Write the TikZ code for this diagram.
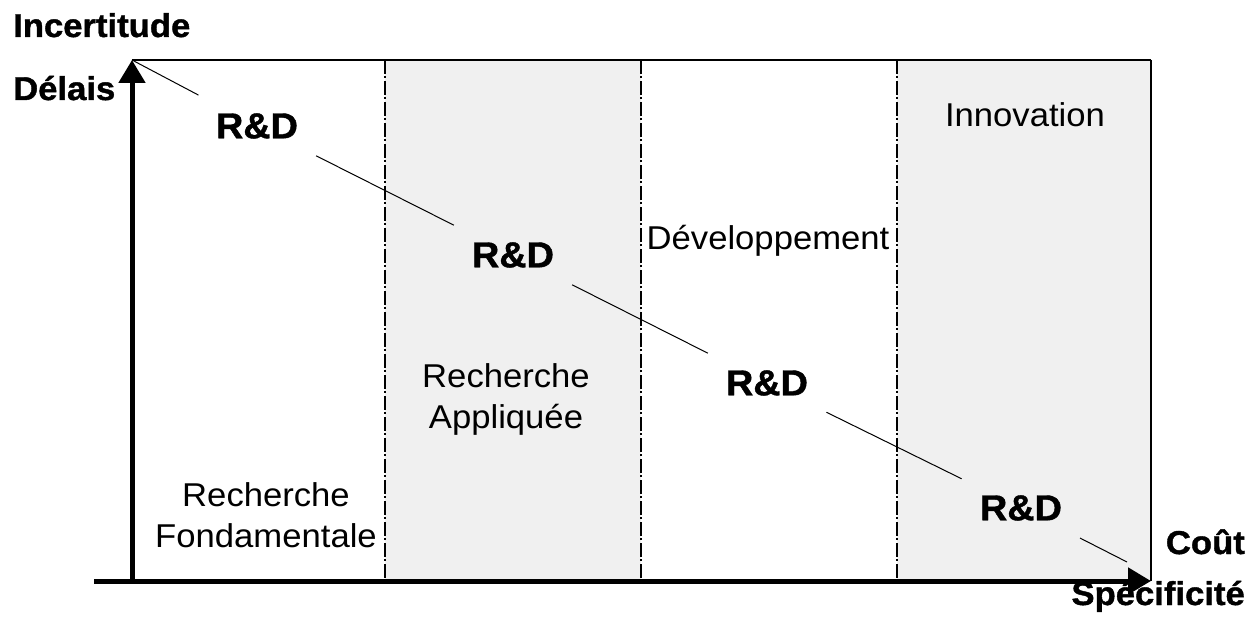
\documentclass[tikz,border=0pt]{standalone}
\usepackage{fontspec}
\setmainfont{Liberation Sans}[FakeStretch=1.05, BoldFeatures={FakeBold=1.2}]
\usetikzlibrary{arrows.meta}
\begin{document}
\begin{tikzpicture}[x=1pt,y=-1pt,
  lbl/.style={font=\fontsize{33}{41}\selectfont, inner sep=0pt, align=center},
  blbl/.style={font=\fontsize{33}{41}\selectfont\bfseries, inner sep=0pt},
  rdnode/.style={circle, minimum size=132pt, inner sep=0pt, font=\fontsize{36}{41}\selectfont\bfseries},
  shade/.style={fill=black!6, draw=none},
  sep/.style={line width=1.3pt, dash pattern=on 14pt off 2pt on 2pt off 3pt},
  axis/.style={line width=5pt, -{Triangle[length=23pt,width=26pt]}},
  diag/.style={line width=1pt}]
\useasboundingbox (0,0) rectangle (1248,628);
% shaded bands
\fill[shade] (385,60) rectangle (641,581);
\fill[shade] (897,60) rectangle (1151,581);
% separators
\coordinate (s1t) at (385,60); \coordinate (s1b) at (385,581);
\coordinate (s2t) at (641,60); \coordinate (s2b) at (641,581);
\coordinate (s3t) at (897,60); \coordinate (s3b) at (897,581);
\draw[sep] (s1t) -- (s1b);
\draw[sep] (s2t) -- (s2b);
\draw[sep] (s3t) -- (s3b);
% frame
\coordinate (tl) at (132,60); \coordinate (tr) at (1151,60); \coordinate (br) at (1151,581);
\draw[line width=2pt] (tl) -- (tr);
\draw[line width=1.5pt] (tr) -- (br);
% axes
\coordinate (ybot) at (132,583); \coordinate (ytip) at (132,60);
\coordinate (xleft) at (94,581); \coordinate (xtip) at (1151,581);
\draw[axis] (ybot) -- (ytip);
\draw[axis] (xleft) -- (xtip);
% R&D labels and diagonal
\node[rdnode] (rd1) at (257,126) {R\&D};
\node[rdnode] (rd2) at (513,255) {R\&D};
\node[rdnode] (rd3) at (767,383) {R\&D};
\node[rdnode] (rd4) at (1021,508) {R\&D};
\coordinate (dend) at (1127,562);
\draw[diag] (ytip) -- (rd1);
\draw[diag] (rd1) -- (rd2);
\draw[diag] (rd2) -- (rd3);
\draw[diag] (rd3) -- (rd4);
\draw[diag] (rd4) -- (dend);
% axis labels
\node[blbl, anchor=base west] (inc) at (13,37) {Incertitude};
\node[blbl, anchor=base west] (del) at (13,100) {Délais};
\node[blbl, anchor=base east] (cout) at (1245,554) {Coût};
\node[blbl, anchor=base east] (spec) at (1245,605) {Spécificité};
% zone labels
\node[lbl, anchor=base] (inno) at (1025,127) {Innovation};
\node[lbl, anchor=base] (dev) at (768,250) {Développement};
\node[lbl] (ra) at (506,399) {Recherche\\Appliquée};
\node[lbl] (rf) at (266,515) {Recherche\\Fondamentale};
\end{tikzpicture}
\end{document}
